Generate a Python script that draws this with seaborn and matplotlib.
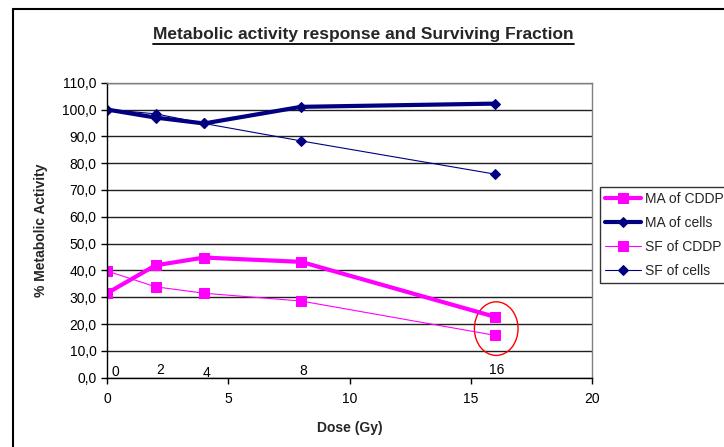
import matplotlib
matplotlib.use("Agg")
import matplotlib.pyplot as plt
from matplotlib.patches import Ellipse
from matplotlib.lines import Line2D
import seaborn as sns
import pandas as pd

sns.set_theme(style="white")
plt.rcParams['font.family'] = ['Liberation Sans', 'DejaVu Sans']

dose = [0, 2, 4, 8, 16]
ma_cddp = [31.5, 41.9, 44.8, 43.2, 22.7]
ma_cells = [100.0, 97.0, 94.8, 101.0, 102.2]
sf_cddp = [39.8, 33.9, 31.5, 28.6, 15.8]
sf_cells = [100.0, 98.4, 94.8, 88.3, 75.9]
dose_labels = ["0", "2", "4", "8", "16"]
series_names = ["MA of CDDP", "MA of cells", "SF of CDDP", "SF of cells"]
yticks = [0, 10, 20, 30, 40, 50, 60, 70, 80, 90, 100, 110]
xticks = [0, 5, 10, 15, 20]

magenta = "#FF00FF"
navy = "#000080"

fig = plt.figure(figsize=(7.24, 4.47), dpi=100)
ax = fig.add_axes([107/724, 1-377.7/447, (592-107)/724, (377.7-82.7)/447])

styles = [
    (ma_cddp, magenta, 3.0, "s", 7),
    (ma_cells, navy, 3.0, "D", 5.5),
    (sf_cddp, magenta, 0.8, "s", 7),
    (sf_cells, navy, 0.8, "D", 5.5),
]
for name, (vals, col, lw, mk, ms) in zip(series_names, styles):
    df = pd.DataFrame({"dose": dose, "val": vals})
    sns.lineplot(data=df, x="dose", y="val", ax=ax, color=col, linewidth=lw,
                 marker=mk, markersize=ms, markeredgecolor=col, markerfacecolor=col,
                 label=name)

ax.set_xlim(0, 20)
ax.set_ylim(0, 110)
ax.set_xticks(xticks)
ax.set_yticks(yticks)
ax.set_yticklabels([f"{v:.1f}".replace(".", ",") for v in yticks])
ax.tick_params(axis="both", labelsize=10, length=4, width=1, direction="out",
               colors="black", bottom=True, left=True)
ax.tick_params(axis="x", pad=6)
ax.yaxis.grid(True, color="#202020", linewidth=1.0)
ax.xaxis.grid(False)
for s in ["left", "bottom"]:
    ax.spines[s].set_color("black")
    ax.spines[s].set_linewidth(1.0)
for s in ["right", "top"]:
    ax.spines[s].set_color("#808080")
    ax.spines[s].set_linewidth(1.0)

ax.set_xlabel("Dose (Gy)", fontsize=10, fontweight="bold", labelpad=11)
ax.set_ylabel("% Metabolic Activity", fontsize=10, fontweight="bold", labelpad=10)

# data labels near x axis
lab_pos = [(0.33, 2.1), (2.19, 2.9), (4.1, 1.8), (8.1, 2.6), (16.08, 2.8)]
for t, (lx, ly) in zip(dose_labels, lab_pos):
    ax.text(lx, ly, t, fontsize=10, ha="center", va="center", color="black")

ax.add_patch(Ellipse((16.05, 18.3), 1.8, 20.0, fill=False, edgecolor="red", linewidth=1.0))

fig.text(363/724, 1-35/447, "Metabolic activity response and Surviving Fraction",
         fontsize=12.5, fontweight="bold", ha="center", va="center")
# underline
fig.add_artist(Line2D([153/724, 574/724], [1-44/447, 1-44/447], color="black", linewidth=1.3))

# outer chart frame (partially visible)
fig.add_artist(Line2D([12.5/724, 12.5/724], [0, 1-9/447], color="black", linewidth=1.5))
fig.add_artist(Line2D([12.5/724, 1.0], [1-9/447, 1-9/447], color="black", linewidth=1.5))

leg = ax.legend(loc="upper left", bbox_to_anchor=(600/724, 1-187/447),
                bbox_transform=fig.transFigure, frameon=True, fontsize=10,
                handlelength=2.6, handletextpad=0.3, borderpad=0.35,
                labelspacing=0.72, fancybox=False, borderaxespad=0)
leg.get_frame().set_edgecolor("black")
leg.get_frame().set_linewidth(1.0)

fig.savefig("out.png", dpi=100)
